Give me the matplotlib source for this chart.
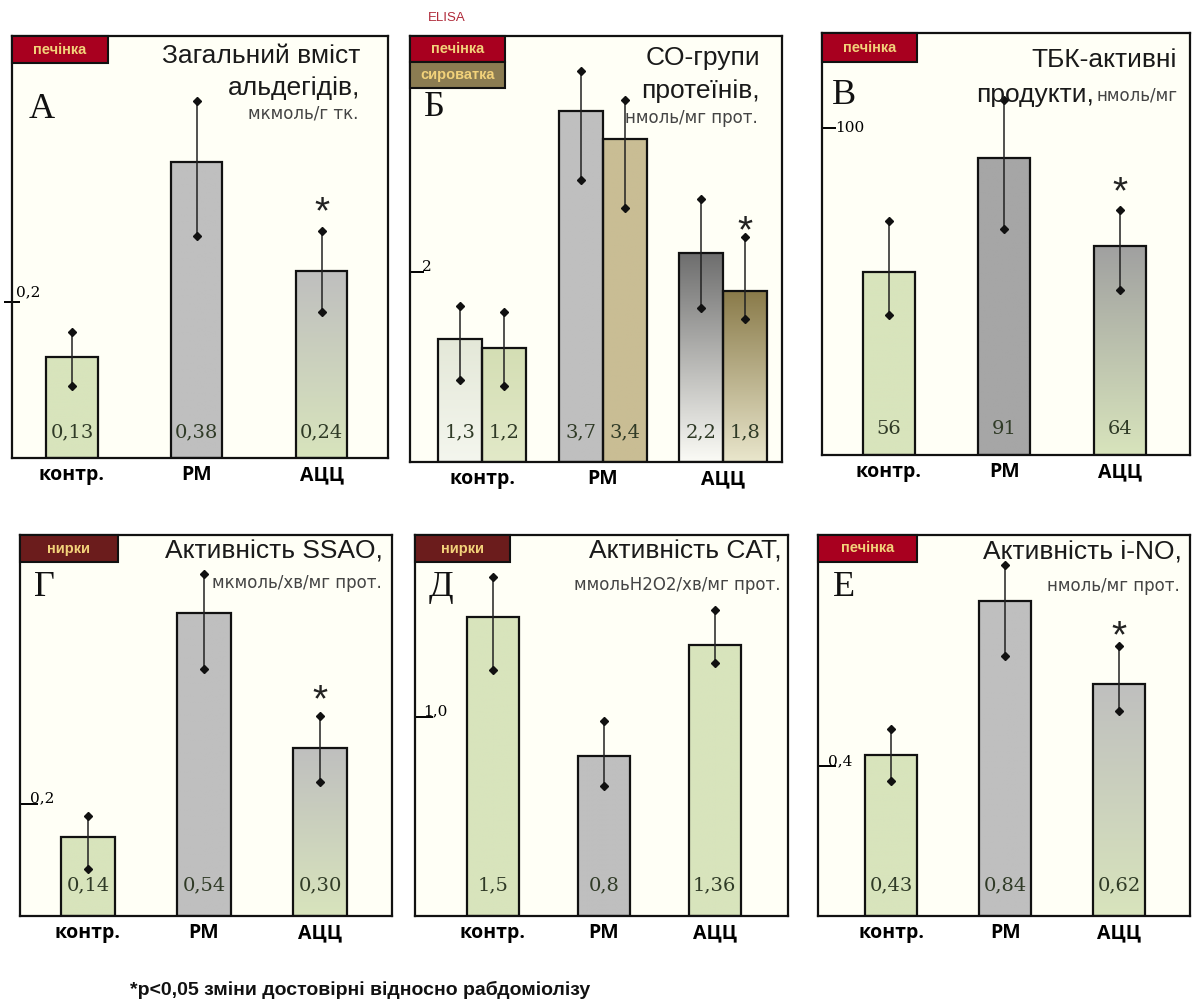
import matplotlib
matplotlib.use("Agg")
import matplotlib.pyplot as plt
import numpy as np
from matplotlib.colors import LinearSegmentedColormap
from matplotlib.patches import Rectangle
from matplotlib.transforms import ScaledTranslation

plt.rcParams["font.family"] = ["Liberation Sans", "DejaVu Sans"]

W, H = 1195, 1007

# ---- data ----
groups = ["контр.", "РМ", "АЦЦ"]

aldehyde = [0.13, 0.38, 0.24]
aldehyde_up = [0.032, 0.078, 0.051]
aldehyde_dn = [0.037, 0.095, 0.053]
aldehyde_txt = ["0,13", "0,38", "0,24"]

co_liver = [1.3, 3.7, 2.2]
co_liver_up = [0.34, 0.42, 0.57]
co_liver_dn = [0.44, 0.73, 0.58]
co_liver_txt = ["1,3", "3,7", "2,2"]
co_serum = [1.2, 3.4, 1.8]
co_serum_up = [0.38, 0.42, 0.57]
co_serum_dn = [0.40, 0.72, 0.29]
co_serum_txt = ["1,2", "3,4", "1,8"]

tbk = [56, 91, 64]
tbk_up = [15.7, 17.8, 11.0]
tbk_dn = [13.2, 21.8, 13.5]
tbk_txt = ["56", "91", "64"]

ssao = [0.14, 0.54, 0.30]
ssao_up = [0.039, 0.069, 0.057]
ssao_dn = [0.057, 0.10, 0.062]
ssao_txt = ["0,14", "0,54", "0,30"]

cat = [1.5, 0.8, 1.36]
cat_up = [0.20, 0.18, 0.175]
cat_dn = [0.265, 0.15, 0.09]
cat_txt = ["1,5", "0,8", "1,36"]

ino = [0.43, 0.84, 0.62]
ino_up = [0.07, 0.097, 0.10]
ino_dn = [0.07, 0.147, 0.074]
ino_txt = ["0,43", "0,84", "0,62"]

# ---- styles ----
GREEN = "#d8e4bc"
GREY = "#bfbfbf"
BG = "#fffff6"
VAL_COLOR = "#2f3a26"
SERIF = ["Liberation Serif", "DejaVu Serif"]
UNIT_FONT = ["DejaVu Sans"]
PX = 0.72  # px -> points at dpi 100

fig = plt.figure(figsize=(W / 100, H / 100), dpi=100)
fig.patch.set_facecolor("white")


def fx(x):
    return x / W


def fy(y):
    return 1 - y / H


def add_axes(box, xlim, ylim):
    x0, y0, x1, y1 = box
    ax = fig.add_axes([fx(x0), fy(y1), (x1 - x0) / W, (y1 - y0) / H])
    ax.set_facecolor(BG)
    for s in ax.spines.values():
        s.set_linewidth(1.6)
        s.set_color("#111111")
    ax._lims = (xlim, ylim)
    return ax


def draw_bars(ax, xs, vals, up, dn, txt, fills, width, stars, val_off, star_off=16):
    xs = np.asarray(xs, float)
    vals = np.asarray(vals, float)
    up = np.asarray(up, float)
    dn = np.asarray(dn, float)
    bars = ax.bar(xs, vals, width, color="none", edgecolor="#111111",
                  linewidth=1.6, zorder=3)
    for b, fill in zip(bars, fills):
        if isinstance(fill, tuple):
            top, bottom = fill
            cmap = LinearSegmentedColormap.from_list("g", [bottom, top])
        else:
            cmap = LinearSegmentedColormap.from_list("g", [fill, fill])
        grad = np.linspace(0, 1, 256).reshape(-1, 1)
        x0 = b.get_x()
        im = ax.imshow(grad, extent=(x0, x0 + b.get_width(), 0, b.get_height()),
                       origin="lower", aspect="auto", cmap=cmap, zorder=2)
        im.set_clip_path(b)
    ax.errorbar(xs, vals, yerr=[dn, up], fmt="none", ecolor="#222222",
                elinewidth=1.1, capsize=0, zorder=4)
    ax.plot(xs, vals + up, "D", ms=4.5, color="#111111", zorder=5)
    ax.plot(xs, vals - dn, "D", ms=4.5, color="#111111", zorder=5)
    for x, t in zip(xs, txt):
        ax.annotate(t, (x, 0), xytext=(0, val_off * PX), textcoords="offset points",
                    ha="center", va="center", fontsize=14, color=VAL_COLOR,
                    family=["DejaVu Serif"], zorder=6)
    for x, v, u, s in zip(xs, vals, up, stars):
        if s:
            ax.annotate("*", (x, v + u), xytext=(0, star_off * PX),
                        textcoords="offset points", ha="center", va="center",
                        fontsize=28, color="#222222", zorder=6)


def finish(ax, ytick, ylabel, tick_dir, tick_len, dx, dy, va):
    xlim, ylim = ax._lims
    ax.set_xlim(*xlim)
    ax.set_ylim(*ylim)
    ax.set_xticks([0, 1, 2])
    ax.set_xticklabels(groups, fontsize=14, fontweight="bold",
                       family=["Open Sans", "DejaVu Sans"])
    ax.tick_params(axis="x", length=0, pad=5)
    ax.set_yticks([ytick])
    ax.set_yticklabels([ylabel], fontsize=11, family=["DejaVu Serif"])
    ax.tick_params(axis="y", direction=tick_dir, length=tick_len, width=1.4, pad=0)
    for lab in ax.get_yticklabels():
        lab.set_ha("left")
        lab.set_va(va)
        lab.set_transform(lab.get_transform() +
                          ScaledTranslation(dx / 100, dy / 100, fig.dpi_scale_trans))


def tag(box, text, fc):
    x0, y0, x1, y1 = box
    fig.add_artist(Rectangle((fx(x0), fy(y1)), (x1 - x0) / W, (y1 - y0) / H,
                             transform=fig.transFigure, fc=fc, ec="#111111",
                             lw=1.5, zorder=10))
    fig.text(fx((x0 + x1) / 2), fy((y0 + y1) / 2), text, ha="center", va="center",
             fontsize=10.5, fontweight="bold", color="#f2d27a", zorder=11)


def title(x, y, text):
    fig.text(fx(x), fy(y), text, ha="right", va="center", fontsize=19, color="#1a1a1a")


def units(x, y, text):
    fig.text(fx(x), fy(y), text, ha="right", va="center", fontsize=12,
             family=UNIT_FONT, color="#444444")


def letter(x, y, text):
    fig.text(fx(x), fy(y), text, ha="center", va="center", fontsize=26,
             family=SERIF, color="#111111")


LIVER = "#a8001f"
SERUM = "#8b7c52"
KIDNEY = "#6b1c1c"

# ---- А ----
ax = add_axes((12, 36, 388, 458), (-0.48, 2.53), (0, 0.542))
draw_bars(ax, [0, 1, 2], aldehyde, aldehyde_up, aldehyde_dn, aldehyde_txt,
          [GREEN, GREY, (GREY, GREEN)], 0.41, [0, 0, 1], 26, 18)
finish(ax, 0.2, "0,2", "inout", 12, 12, 3, "bottom")
tag((12, 36, 108, 63), "печінка", LIVER)
title(360, 56, "Загальний вміст")
title(360, 88, "альдегідів,")
units(358, 114, "мкмоль/г тк.")
letter(42, 110, "А")

# ---- Б ----
ax = add_axes((410, 36, 782, 462), (-0.60, 2.49), (0, 4.49))
x = np.arange(3)
draw_bars(ax, x - 0.183, co_liver, co_liver_up, co_liver_dn, co_liver_txt,
          [("#e4e8d8", "#f4f6ee"), GREY, ("#6e6e6e", "#fbfbf6")], 0.365, [0, 0, 0], 30)
draw_bars(ax, x + 0.183, co_serum, co_serum_up, co_serum_dn, co_serum_txt,
          [("#d4deb4", "#e2e9c8"), "#c9bd94", ("#8a7b4a", "#e9e6cc")], 0.365,
          [0, 0, 1], 30, 5)
finish(ax, 2, "2", "in", 10, 12, -2, "bottom")
tag((410, 36, 505, 62), "печінка", LIVER)
tag((410, 62, 505, 88), "сироватка", SERUM)
title(760, 58, "CO-групи")
title(760, 91, "протеїнів,")
units(758, 118, "нмоль/мг прот.")
letter(434, 108, "Б")
fig.text(fx(428), fy(18), "ELISA", ha="left", va="center", fontsize=9.5, color="#b02a3a")

# ---- В ----
ax = add_axes((822, 33, 1190, 455), (-0.58, 2.61), (0, 129.2))
draw_bars(ax, [0, 1, 2], tbk, tbk_up, tbk_dn, tbk_txt,
          [GREEN, "#a6a6a6", ("#a0a0a0", GREEN)], 0.45, [0, 0, 1], 26, 17)
finish(ax, 100, "100", "in", 10, 13, 0, "center")
tag((822, 33, 917, 62), "печінка", LIVER)
title(1177, 60, "ТБК-активні")
title(1094, 95, "продукти,")
units(1178, 96, "нмоль/мг")
letter(844, 96, "В")

# ---- Г ----
ax = add_axes((20, 535, 392, 916), (-0.586, 2.62), (0, 0.679))
draw_bars(ax, [0, 1, 2], ssao, ssao_up, ssao_dn, ssao_txt,
          [GREEN, GREY, (GREY, GREEN)], 0.46, [0, 0, 1], 31, 14)
finish(ax, 0.2, "0,2", "in", 13, 10, -2, "bottom")
tag((20, 535, 118, 562), "нирки", KIDNEY)
title(383, 552, "Активність SSAO,")
units(382, 583, "мкмоль/хв/мг прот.")
letter(44, 588, "Г")

# ---- Д ----
ax = add_axes((415, 535, 788, 916), (-0.70, 2.66), (0, 1.91))
draw_bars(ax, [0, 1, 2], cat, cat_up, cat_dn, cat_txt,
          [GREEN, GREY, GREEN], 0.47, [0, 0, 0], 31)
finish(ax, 1.0, "1,0", "in", 13, 8, -2, "bottom")
tag((415, 535, 510, 562), "нирки", KIDNEY)
title(782, 552, "Активність CAT,")
units(780, 585, "ммольН2О2/хв/мг прот.")
letter(441, 588, "Д")

# ---- Е ----
ax = add_axes((818, 535, 1190, 916), (-0.64, 2.62), (0, 1.016))
draw_bars(ax, [0, 1, 2], ino, ino_up, ino_dn, ino_txt,
          [GREEN, GREY, (GREY, GREEN)], 0.46, [0, 0, 1], 31, 9)
finish(ax, 0.4, "0,4", "in", 13, 10, -2, "bottom")
tag((818, 535, 917, 562), "печінка", LIVER)
title(1182, 552, "Активність i-NO,")
units(1180, 586, "нмоль/мг прот.")
letter(844, 588, "Е")

fig.text(fx(130), fy(990), "*p<0,05 зміни достовірні відносно рабдоміолізу",
         ha="left", va="center", fontsize=14, fontweight="bold",
         family=["Liberation Sans", "DejaVu Sans"], color="#111111")

fig.savefig("out.png", dpi=100)
